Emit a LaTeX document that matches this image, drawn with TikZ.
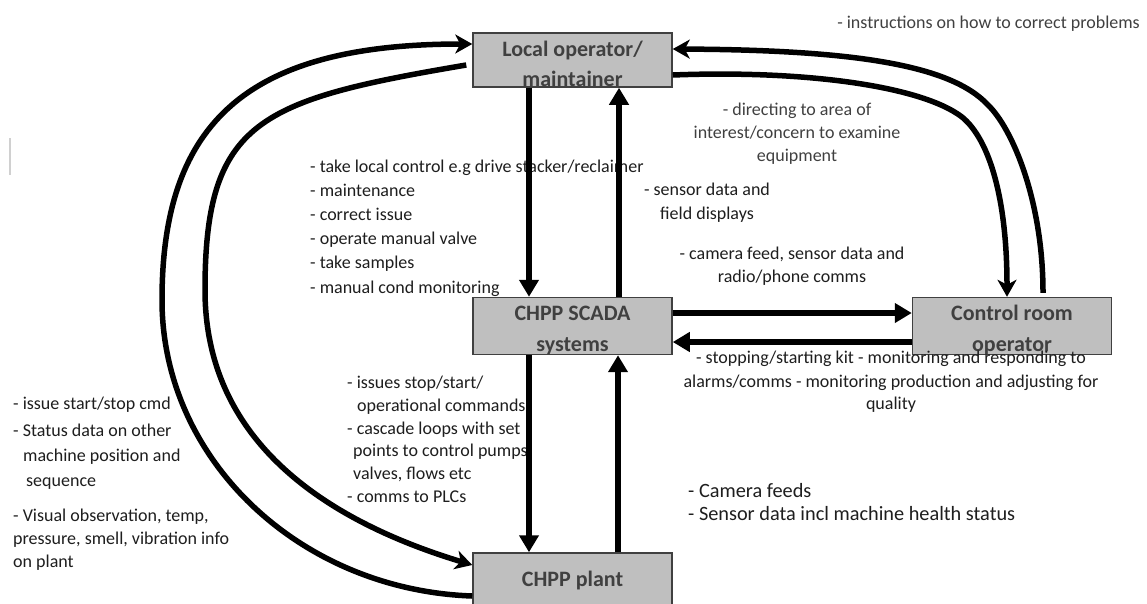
\documentclass[tikz,border=0pt]{standalone}
\usepackage{fontspec}
\setmainfont{Carlito}
\usetikzlibrary{arrows.meta,calc}
\definecolor{boxfill}{HTML}{BFBFBF}
\definecolor{boxline}{HTML}{404040}
\definecolor{boxtext}{HTML}{404040}
\definecolor{lbltext}{HTML}{1E1E1E}
\definecolor{graytext}{HTML}{404040}
\definecolor{cursorgray}{HTML}{D0D0D0}
\newcommand{\boxstrut}{\rule{0pt}{23pt}}
\begin{document}
\begin{tikzpicture}[x=1pt,y=-1pt,
  box/.style={draw=boxline, fill=boxfill, line width=1.5pt, minimum width=199pt,
    minimum height=54pt, inner sep=0pt, align=center,
    font=\fontsize{22}{30.5}\selectfont\bfseries, text=boxtext},
  lbl/.style={inner sep=0pt, font=\fontsize{18}{22}\selectfont, text=lbltext},
  glbl/.style={lbl, text=graytext},
  biglbl/.style={lbl, font=\fontsize{20.3}{24}\selectfont},
  sarr/.style={line width=5.5pt, -{Triangle[length=17pt,width=19pt]}},
  carr/.style={line width=5.5pt, -{Stealth[length=17pt,width=19pt,inset=5pt]}}
]
\useasboundingbox (0,0) rectangle (1147,603);
\fill[white] (0,0) rectangle (1147,603);

% boxes
\node[box] (local) at (572.5,60) {\boxstrut Local operator/\\maintainer};
\node[box] (scada) at (572.5,326) {\boxstrut CHPP SCADA\\systems};
\node[box] (ctrl) at (1012,326) {\boxstrut Control room\\operator};
\node[box] (plant) at (572.5,580) {CHPP plant};

% cursor mark
\draw[cursorgray, line width=1.5pt] (10,138) -- (10,175);

% labels top right
\node[glbl, anchor=base east] (instr) at (1140,28.5) {- instructions on how to correct problems};
\node[glbl, anchor=base] (dir1) at (797,115.5) {- directing to area of};
\node[glbl, anchor=base] (dir2) at (797,138.5) {interest/concern to examine};
\node[glbl, anchor=base] (dir3) at (797,161.5) {equipment};

% local -> scada list
\node[lbl, anchor=base west] (l1) at (310,172) {- take local control e.g drive stacker/reclaimer};
\node[lbl, anchor=base west] (l2) at (310,196.2) {- maintenance};
\node[lbl, anchor=base west] (l3) at (310,220.4) {- correct issue};
\node[lbl, anchor=base west] (l4) at (310,244.6) {- operate manual valve};
\node[lbl, anchor=base west] (l5) at (310,268.8) {- take samples};
\node[lbl, anchor=base west] (l6) at (310,293) {- manual cond monitoring};

% sensor data
\node[lbl, anchor=base] (s1) at (707,195.5) {- sensor data and};
\node[lbl, anchor=base] (s2) at (707,219.5) {field displays};

% camera feed
\node[lbl, anchor=base] (c1) at (792,259.5) {- camera feed, sensor data and};
\node[lbl, anchor=base] (c2) at (792,282.5) {radio/phone comms};

% stopping
\node[lbl, anchor=base] (p1) at (891,363.5) {- stopping/starting kit - monitoring and responding to};
\node[lbl, anchor=base] (p2) at (891,387.5) {alarms/comms - monitoring production and adjusting for};
\node[lbl, anchor=base] (p3) at (891,409.5) {quality};

% scada -> plant list
\node[lbl, anchor=base west] (i1) at (347,388.5) {- issues stop/start/};
\node[lbl, anchor=base west] (i2) at (357,411.3) {operational commands};
\node[lbl, anchor=base west] (i3) at (347,434.1) {- cascade loops with set};
\node[lbl, anchor=base west] (i4) at (353,456.9) {points to control pumps};
\node[lbl, anchor=base west] (i5) at (353,479.7) {valves, flows etc};
\node[lbl, anchor=base west] (i6) at (347,502.5) {- comms to PLCs};

% left list
\node[lbl, anchor=base west] (e1) at (13,409.5) {- issue start/stop cmd};
\node[lbl, anchor=base west] (e2) at (13,436.5) {- Status data on other};
\node[lbl, anchor=base west] (e3) at (23,461.5) {machine position and};
\node[lbl, anchor=base west] (e4) at (26,486.5) {sequence};
\node[lbl, anchor=base west] (e5) at (13,521.5) {- Visual observation, temp,};
\node[lbl, anchor=base west] (e6) at (13,544.5) {pressure, smell, vibration info};
\node[lbl, anchor=base west] (e7) at (13,567.5) {on plant};

% plant -> scada
\node[biglbl, anchor=base west] (f1) at (688,497) {- Camera feeds};
\node[biglbl, anchor=base west] (f2) at (688,520) {- Sensor data incl machine health status};

% straight arrows
\draw[sarr] ($(local.south)+(-43.5,0)$) -- ($(scada.north)+(-43.5,0)$);
\draw[sarr] ($(scada.north)+(46.5,0)$) -- ($(local.south)+(46.5,0)$);
\draw[sarr] ($(scada.south)+(-43.5,0)$) -- ($(plant.north)+(-43.5,0)$);
\draw[sarr] ($(plant.north)+(45.5,0)$) -- ($(scada.south)+(45.5,0)$);
\draw[sarr] ($(scada.east)+(0,-13)$) -- ($(ctrl.west)+(0,-13)$);
\draw[sarr] ($(ctrl.west)+(0,16)$) -- ($(scada.east)+(0,16)$);

% curved connectors right
\coordinate (cA) at ($(ctrl.north)+(31,-4)$);
\coordinate (lA) at ($(local.east)+(0,-11)$);
\draw[carr] (cA) .. controls (1043,200) and (1012,128) .. (988,105)
  .. controls (950,64) and (850,50) .. (lA);
\coordinate (lB) at ($(local.east)+(0,15)$);
\coordinate (cB) at ($(ctrl.north)+(-5,0)$);
\draw[carr] (lB) .. controls (800,70) and (920,85) .. (962,117)
  .. controls (990,140) and (1007,200) .. (cB);

% curved connectors left
\coordinate (pO) at ($(plant.west)+(0,16)$);
\coordinate (lO) at ($(local.west)+(0,-16)$);
\draw[carr] (pO) .. controls (300,590) and (162,460) .. (162,300)
  .. controls (162,120) and (250,44) .. (lO);
\coordinate (lI) at ($(local.west)+(-6,5)$);
\coordinate (pI) at ($(plant.west)+(0,-15)$);
\draw[carr] (lI) .. controls (260,100) and (205,120) .. (205,290)
  .. controls (205,450) and (340,525) .. (pI);
\end{tikzpicture}
\end{document}
